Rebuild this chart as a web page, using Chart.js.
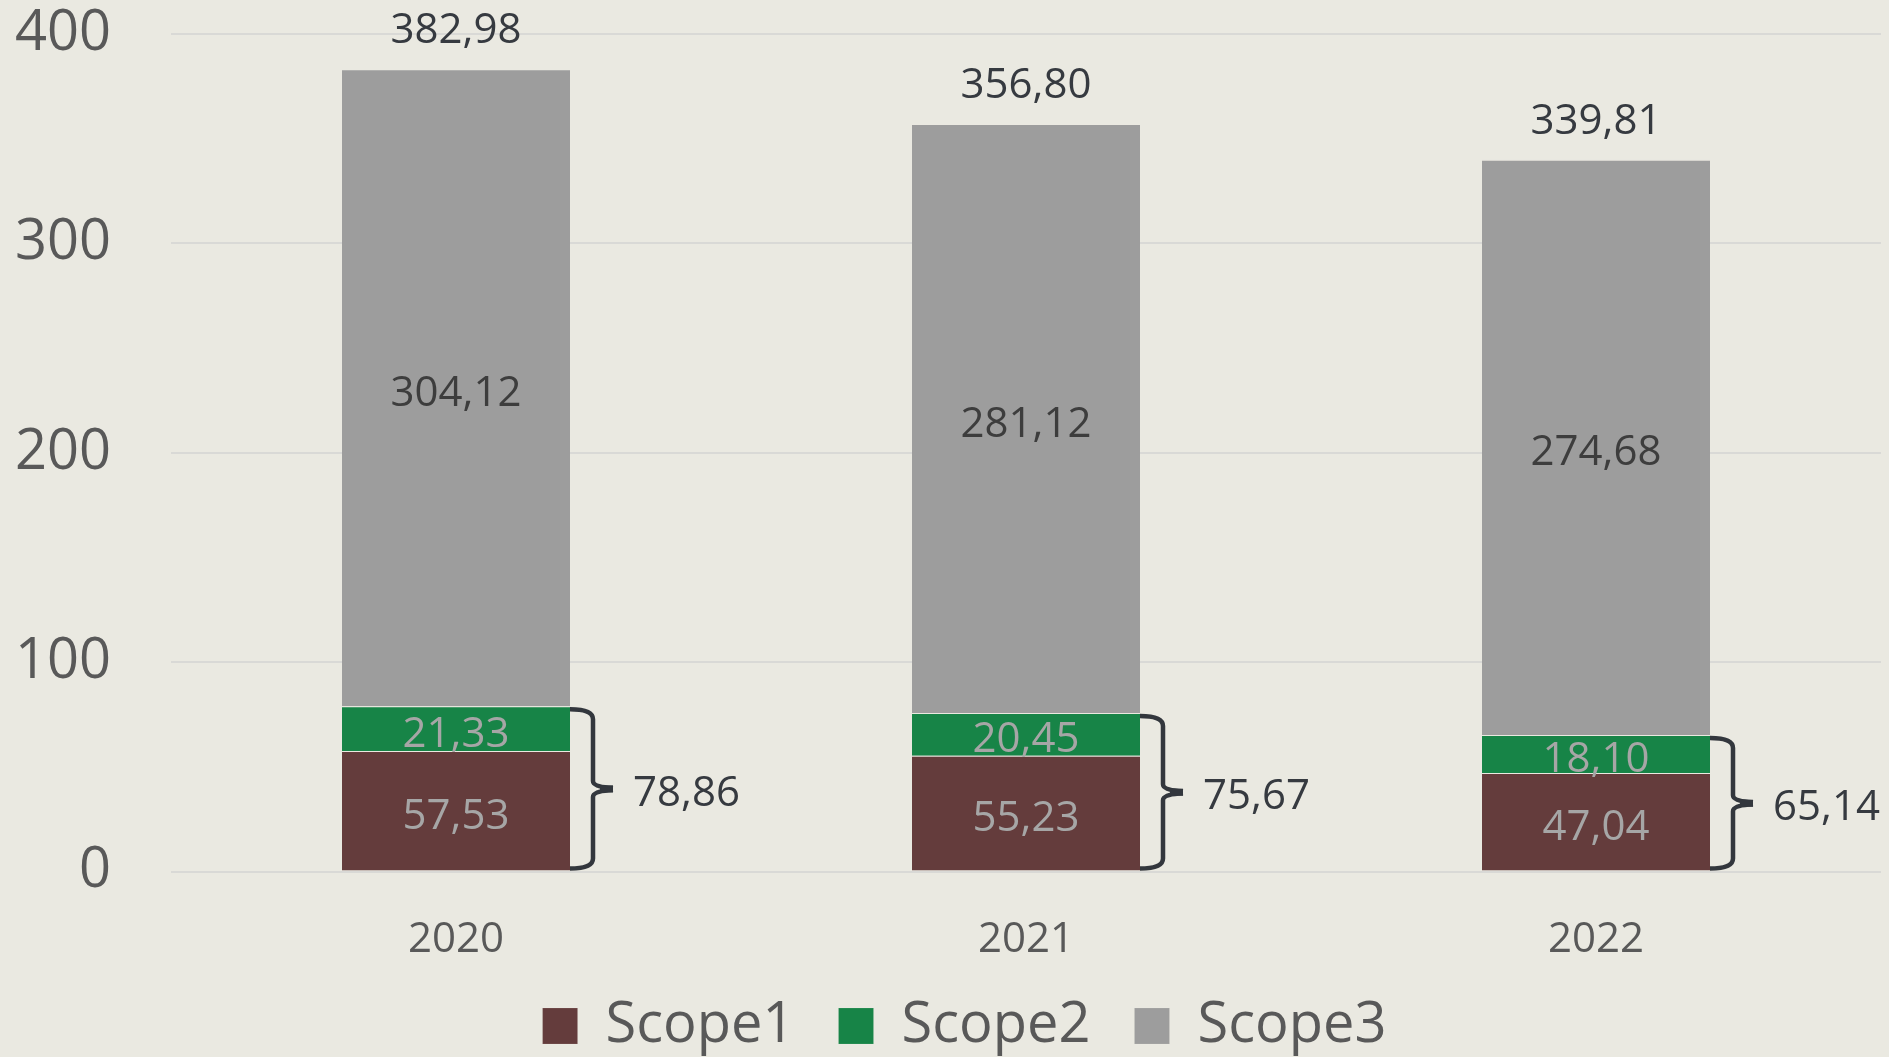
<!DOCTYPE html>
<html>
<head>
<meta charset="utf-8">
<script src="https://cdn.jsdelivr.net/npm/chart.js@4.4.0/dist/chart.umd.min.js"></script>
<style>
  html, body { margin: 0; padding: 0; background: #eae9e1; }
  canvas { display: block; }
</style>
</head>
<body>
<canvas id="c" width="1889" height="1057"></canvas>
<script>
// ---- data ----
const categories = ["2020", "2021", "2022"];
const scope1 = [57.53, 55.23, 47.04];
const scope2 = [21.33, 20.45, 18.10];
const scope3 = [304.12, 281.12, 274.68];
const totalLabels = ["382,98", "356,80", "339,81"];
const subtotalLabels = ["78,86", "75,67", "65,14"];
const yTicks = [0, 100, 200, 300, 400];
const seriesNames = ["Scope1", "Scope2", "Scope3"];

const FONT = "'Open Sans', 'Noto Sans', sans-serif";
const fmt = v => v.toFixed(2).replace('.', ',');

const bgPlugin = {
  id: 'bg',
  beforeDraw(chart) {
    const ctx = chart.ctx;
    ctx.save();
    ctx.fillStyle = '#eae9e1';
    ctx.fillRect(0, 0, chart.width, chart.height);
    ctx.restore();
  }
};

// nudge the legend block slightly right, as in the reference
const legendShift = {
  id: 'legendShift',
  afterLayout(chart) {
    if (chart.legend) {
      chart.legend.left += 24;
      chart.legend.right += 24;
    }
  }
};

const labelPlugin = {
  id: 'labels',
  afterDatasetsDraw(chart) {
    const ctx = chart.ctx;
    const yScale = chart.scales.y;
    ctx.save();
    ctx.font = "42px " + FONT;
    ctx.textAlign = 'center';
    ctx.textBaseline = 'middle';
    const innerColors = ['#a6a6a6', '#a6a6a6', '#3d3d3d'];
    chart.data.datasets.forEach((ds, di) => {
      const meta = chart.getDatasetMeta(di);
      meta.data.forEach((el, i) => {
        const cy = (el.y + el.base) / 2 + 6;
        ctx.fillStyle = innerColors[di];
        ctx.fillText(fmt(ds.data[i]), el.x, cy);
      });
    });
    // totals above bars
    const topMeta = chart.getDatasetMeta(2);
    ctx.fillStyle = '#363a40';
    topMeta.data.forEach((el, i) => {
      ctx.fillText(totalLabels[i], el.x, el.y - 38);
    });
    // braces for scope1 + scope2
    const m2 = chart.getDatasetMeta(1);
    m2.data.forEach((el, i) => {
      const x0 = el.x + el.width / 2;
      const top = el.y + 3;
      const bottom = yScale.getPixelForValue(0) - 3;
      const mid = (top + bottom) / 2;
      const xv = x0 + 23;
      const r = 10;
      ctx.beginPath();
      ctx.lineWidth = 4.5;
      ctx.strokeStyle = '#33373d';
      ctx.lineJoin = 'round';
      ctx.moveTo(x0, top);
      ctx.quadraticCurveTo(xv, top, xv, top + r);
      ctx.lineTo(xv, mid - 8);
      ctx.quadraticCurveTo(xv, mid - 2, x0 + 43, mid - 1);
      ctx.moveTo(x0 + 43, mid + 1);
      ctx.quadraticCurveTo(xv, mid + 2, xv, mid + 8);
      ctx.lineTo(xv, bottom - r);
      ctx.quadraticCurveTo(xv, bottom, x0, bottom);
      ctx.stroke();
      ctx.fillStyle = '#33373d';
      ctx.fillRect(x0 + 30, mid - 3.5, 13, 7);
      ctx.textAlign = 'left';
      ctx.fillStyle = '#363a40';
      ctx.fillText(subtotalLabels[i], x0 + 63, mid + 5);
      ctx.textAlign = 'center';
    });
    ctx.restore();
  }
};

const segBorder = { top: 1, left: 0, right: 0, bottom: 0 };

new Chart(document.getElementById('c'), {
  type: 'bar',
  data: {
    labels: categories,
    datasets: [
      { label: seriesNames[0], data: scope1, backgroundColor: '#643c3c', borderColor: 'rgba(235,234,226,0.55)', borderWidth: segBorder, borderSkipped: false },
      { label: seriesNames[1], data: scope2, backgroundColor: '#178447', borderColor: 'rgba(235,234,226,0.55)', borderWidth: segBorder, borderSkipped: false },
      { label: seriesNames[2], data: scope3, backgroundColor: '#9d9d9d', borderColor: 'rgba(235,234,226,0.55)', borderWidth: segBorder, borderSkipped: false }
    ]
  },
  options: {
    responsive: false,
    animation: false,
    devicePixelRatio: 1,
    barPercentage: 0.4,
    categoryPercentage: 1.0,
    layout: { padding: { left: 0, right: 8, top: 0, bottom: -7 } },
    plugins: {
      tooltip: { enabled: false },
      legend: {
        position: 'bottom',
        labels: {
          font: { family: FONT, size: 56 },
          color: '#595959',
          boxWidth: 35,
          boxHeight: 36,
          padding: 44
        }
      }
    },
    scales: {
      x: {
        stacked: true,
        grid: { display: false, drawTicks: false },
        border: { display: false },
        ticks: { font: { family: FONT, size: 42 }, color: '#595959', padding: 43 },
        afterFit(scale) { scale.height = 82.5; }
      },
      y: {
        stacked: true,
        min: 0,
        max: 400,
        afterBuildTicks(scale) { scale.ticks = yTicks.map(v => ({ value: v })); },
        grid: { color: '#d9d9d6', lineWidth: 2, drawTicks: true, tickLength: 60, tickColor: 'rgba(0,0,0,0)' },
        border: { display: false },
        ticks: { font: { family: FONT, size: 56 }, color: '#595959', padding: 0 },
        afterFit(scale) { scale.width = 171; }
      }
    }
  },
  plugins: [bgPlugin, legendShift, labelPlugin]
});
</script>
</body>
</html>
